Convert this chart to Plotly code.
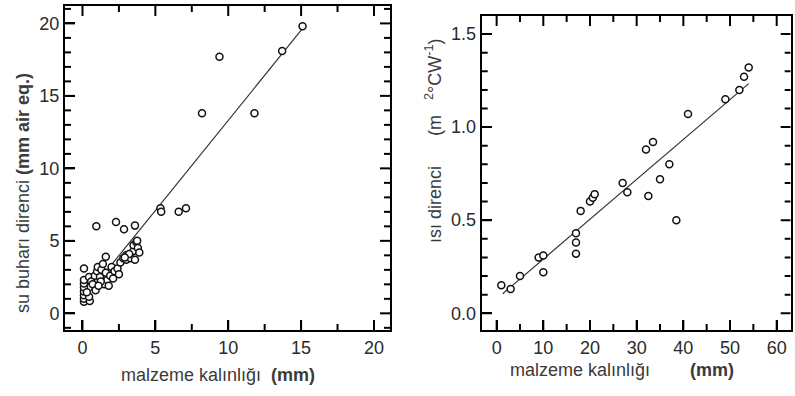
import plotly.graph_objects as go

W, H = 795, 396

# ---------------- data: left panel (vapour resistance) ----------------
vap_x = [15.1, 13.7, 9.4, 8.2, 11.8, 5.35, 5.4, 6.6, 7.1,
         0.95, 2.3, 2.85, 3.6, 0.1,
         0.1, 0.1, 0.1, 0.1, 0.1, 0.1, 0.1, 0.45, 0.5, 0.45, 0.3, 0.6,
         0.7, 0.85, 1.0, 1.05, 1.2, 1.3, 1.4, 1.5, 1.6, 1.6, 1.7, 1.8,
         1.9, 2.0, 2.2, 2.4, 2.5, 2.6, 2.8, 3.0, 3.0, 3.3, 3.5, 3.5,
         3.6, 3.7, 3.8, 3.9, 3.75, 3.2, 2.9, 1.25, 0.9, 2.1, 1.1]
vap_y = [19.8, 18.1, 17.7, 13.8, 13.8, 7.25, 7.0, 7.0, 7.25,
         6.0, 6.3, 5.8, 6.05, 3.1,
         0.8, 1.0, 1.25, 1.5, 1.8, 2.05, 2.3, 2.5, 0.85, 1.15, 1.45, 2.2,
         2.0, 2.6, 2.9, 3.2, 2.5, 3.0, 3.4, 2.0, 3.9, 2.8, 2.3, 1.9,
         2.6, 3.2, 2.9, 3.1, 2.7, 3.5, 3.8, 4.0, 3.7, 3.8, 4.3, 4.7,
         3.7, 4.9, 4.5, 4.2, 5.0, 4.1, 3.85, 2.2, 1.6, 2.4, 1.9]
vap_fit_x = [0.1, 15.2]          # fitted line extent
vap_slope, vap_icept = 1.243, 0.877

# ---------------- data: right panel (thermal resistance) ----------------
th_x = [1, 3, 5, 9, 10, 10, 17, 17, 17, 18, 20, 20.6, 21, 27, 28,
        32, 33.5, 32.5, 35, 37, 38.5, 41, 49, 52, 53, 54]
th_y = [0.15, 0.13, 0.20, 0.30, 0.31, 0.22, 0.43, 0.38, 0.32, 0.55,
        0.60, 0.62, 0.64, 0.70, 0.65, 0.88, 0.92, 0.63, 0.72, 0.80,
        0.50, 1.07, 1.15, 1.20, 1.27, 1.32]
th_fit_x = [1.3, 54]
th_slope, th_icept = 0.02143, 0.0766

# tick steps (major, minor)
left_x_step, left_x_minor = 5, 2.5
left_y_step, left_y_minor = 5, 1
right_x_step, right_x_minor = 10, 5
right_y_step, right_y_minor = 0.5, 0.1

# ---------------- layout geometry ----------------
def px_x(p):
    return p / W

def px_y(p):
    return 1 - p / H

L_XPX, L_YPX = (65, 390), (330, 6)
R_XPX, R_YPX = (481.7, 790.7), (330, 16)
L_XR, L_YR = [-1.2, 21.1], [-1.15, 21.2]
R_XR, R_YR = [-3.2, 63.0], [-0.09, 1.597]
MAJ_LEN, MIN_LEN = 10, 6

marker = dict(symbol="circle", size=7, color="white",
              line=dict(color="#111", width=1.5))

fig = go.Figure()


# ---- inside tick marks on all four sides, drawn as a line trace ----
def steps(lo, hi, step):
    vals = []
    k = int(lo // step)
    while k * step <= hi + 1e-9:
        v = round(k * step, 6)
        if lo < v < hi:
            vals.append(v)
        k += 1
    return vals


def tick_trace(xr, yr, xpx, ypx, xaxis, yaxis, xmaj, xmin, ymaj, ymin):
    xu = (xr[1] - xr[0]) / (xpx[1] - xpx[0])      # data units per pixel (x)
    yu = (yr[1] - yr[0]) / (ypx[0] - ypx[1])      # data units per pixel (y)
    tx, ty = [], []
    majors_x = set(steps(xr[0], xr[1], xmaj))
    for v in steps(xr[0], xr[1], xmin):
        ln = MAJ_LEN if v in majors_x else MIN_LEN
        tx += [v, v, None, v, v, None]
        ty += [yr[0], yr[0] + ln * yu, None, yr[1], yr[1] - ln * yu, None]
    majors_y = set(steps(yr[0], yr[1], ymaj))
    for v in steps(yr[0], yr[1], ymin):
        ln = MAJ_LEN if v in majors_y else MIN_LEN
        tx += [xr[0], xr[0] + ln * xu, None, xr[1], xr[1] - ln * xu, None]
        ty += [v, v, None, v, v, None]
    return go.Scatter(x=tx, y=ty, mode="lines", line=dict(color="#000", width=2),
                      xaxis=xaxis, yaxis=yaxis, hoverinfo="skip",
                      showlegend=False, connectgaps=False)


fig.add_trace(tick_trace(L_XR, L_YR, L_XPX, L_YPX, "x", "y",
                         left_x_step, left_x_minor, left_y_step, left_y_minor))
fig.add_trace(tick_trace(R_XR, R_YR, R_XPX, R_YPX, "x2", "y2",
                         right_x_step, right_x_minor, right_y_step, right_y_minor))

fig.add_trace(go.Scatter(x=vap_fit_x,
                         y=[vap_icept + vap_slope * v for v in vap_fit_x],
                         mode="lines", line=dict(color="#333", width=1.2),
                         xaxis="x", yaxis="y", showlegend=False))
fig.add_trace(go.Scatter(x=vap_x, y=vap_y, mode="markers", marker=marker,
                         xaxis="x", yaxis="y", showlegend=False))
fig.add_trace(go.Scatter(x=th_fit_x,
                         y=[th_icept + th_slope * v for v in th_fit_x],
                         mode="lines", line=dict(color="#333", width=1.2),
                         xaxis="x2", yaxis="y2", showlegend=False))
fig.add_trace(go.Scatter(x=th_x, y=th_y, mode="markers", marker=marker,
                         xaxis="x2", yaxis="y2", showlegend=False))

tickfont = dict(family="Liberation Sans, Arial, sans-serif", size=18, color="#2a2a2a")
common = dict(showline=True, linewidth=2, linecolor="#000", mirror=True,
              ticks="inside", tickwidth=2, ticklen=MAJ_LEN, tickcolor="#000",
              tickmode="linear", tick0=0,
              showgrid=False, zeroline=False, tickfont=tickfont)

fig.update_layout(
    width=W, height=H, margin=dict(l=0, r=0, t=0, b=0),
    plot_bgcolor="white", paper_bgcolor="white", showlegend=False,
    xaxis=dict(domain=[px_x(L_XPX[0]), px_x(L_XPX[1])], range=L_XR,
               dtick=left_x_step, anchor="y", **common),
    yaxis=dict(domain=[px_y(L_YPX[0]), px_y(L_YPX[1])], range=L_YR,
               dtick=left_y_step, anchor="x", **common),
    xaxis2=dict(domain=[px_x(R_XPX[0]), px_x(R_XPX[1])], range=R_XR,
                dtick=right_x_step, anchor="y2", **common),
    yaxis2=dict(domain=[px_y(R_YPX[0]), px_y(R_YPX[1])], range=R_YR,
                dtick=right_y_step, tickformat=".1f", anchor="x2", **common),
)

titlefont = dict(family="Liberation Sans, Arial, sans-serif", size=18, color="#3a3a3a")
nb = "\u00a0"
annots = [
    dict(text="malzeme kalınlığı" + nb * 2 + "<b>(mm)</b>", x=px_x(218), y=px_y(375)),
    dict(text="malzeme kalınlığı" + nb * 8 + "<b>(mm)</b>", x=px_x(622), y=px_y(370)),
    dict(text="su buharı" + nb + "direnci" + nb + "<b>(mm air eq.)</b>",
         x=px_x(23), y=px_y(193), textangle=-90),
    dict(text="ısı direnci" + nb * 6 + "(m" + nb * 3 + "<sup>2</sup>°CW<sup>-1</sup>)",
         x=px_x(433), y=px_y(141), textangle=-90),
]
for a in annots:
    fig.add_annotation(xref="paper", yref="paper", showarrow=False,
                       xanchor="center", yanchor="middle", font=titlefont, **a)

fig.write_html("out.html", config={"displayModeBar": False},
               post_script="document.body.style.margin='0px';")
